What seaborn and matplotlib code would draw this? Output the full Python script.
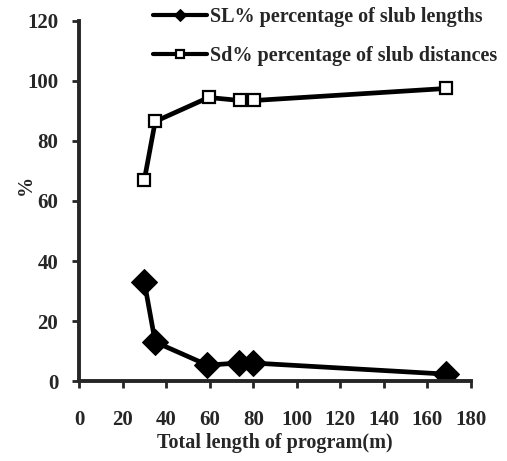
import matplotlib
matplotlib.use("Agg")
import matplotlib.pyplot as plt
import seaborn as sns
import pandas as pd

# Data
x_sl = [30, 35, 59, 73.5, 80, 168.5]
sl = [33, 13, 5.3, 6, 6, 2.3]
x_sd = [30, 35, 59.5, 74, 80.5, 168.5]
sd = [67, 86.5, 94.5, 93.5, 93.5, 97.5]
xticks = [0, 20, 40, 60, 80, 100, 120, 140, 160, 180]
yticks = [0, 20, 40, 60, 80, 100, 120]
label_sl = "SL% percentage of slub lengths"
label_sd = "Sd% percentage of slub distances"

sns.set_style("ticks")
plt.rcParams['font.family'] = ['Liberation Serif', 'DejaVu Serif']
plt.rcParams['font.weight'] = 'bold'

fig = plt.figure(figsize=(5.07, 4.61), dpi=100)
ax = fig.add_axes([0.1558, 0.1735, 0.7732, 0.781])

df_sl = pd.DataFrame({"x": x_sl, "y": sl})
df_sd = pd.DataFrame({"x": x_sd, "y": sd})

sns.lineplot(data=df_sl, x="x", y="y", ax=ax, color="black", linewidth=3.4,
             marker="D", markersize=13, markerfacecolor="black",
             markeredgecolor="black", label=label_sl)
sns.lineplot(data=df_sd, x="x", y="y", ax=ax, color="black", linewidth=3.4,
             marker="s", markersize=8, markerfacecolor="white",
             markeredgecolor="black", markeredgewidth=1.6, label=label_sd)

ax.set_xlim(0, 180)
ax.set_ylim(0, 120)
ax.set_xticks(xticks)
ax.set_yticks(yticks)
ax.tick_params(axis='both', labelsize=15, width=2, length=5, direction='out')
for t in ax.get_xticklabels() + ax.get_yticklabels():
    t.set_fontweight('bold')
ax.tick_params(axis='x', pad=16)
ax.tick_params(axis='y', pad=10)
ax.set_xlabel("Total length of program(m)", fontsize=14.5, fontweight='bold')
ax.set_ylabel("%", fontsize=14.5, fontweight='bold')
ax.xaxis.set_label_coords(0.5, -0.145)
ax.yaxis.set_label_coords(-0.11, 0.545)
sns.despine(ax=ax)
for s in ['left', 'bottom']:
    ax.spines[s].set_linewidth(2.8)

leg = ax.legend(loc='upper left', bbox_to_anchor=(0.302, 0.985),
                bbox_transform=fig.transFigure, frameon=False,
                fontsize=14.5, handlelength=2.7, labelspacing=0.95,
                handletextpad=0.1, borderaxespad=0, borderpad=0)
for t in leg.get_texts():
    t.set_fontweight('bold')
for h in leg.legend_handles:
    h.set_markersize(6)
    h.set_linewidth(3)

fig.savefig("out.png", dpi=100)
